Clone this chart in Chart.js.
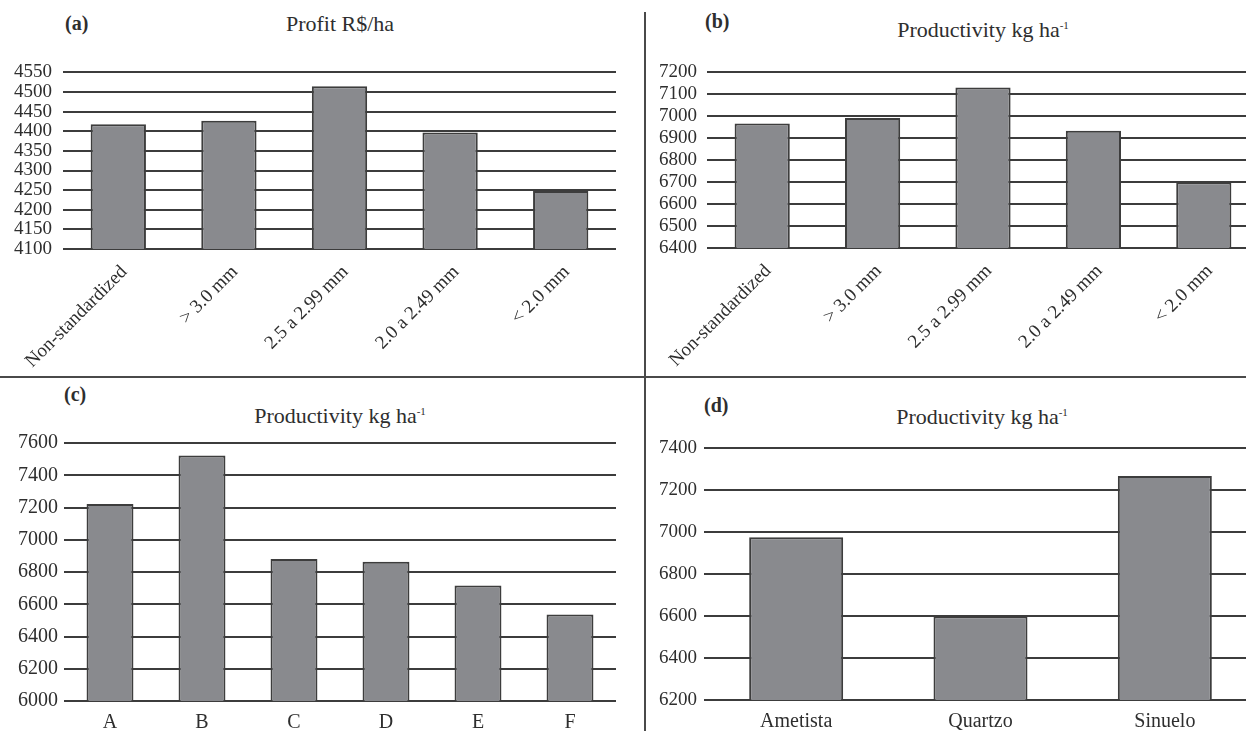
<!DOCTYPE html>
<html lang="en">
<head>
    <meta charset="UTF-8">
    <title>Profit and Productivity</title>
    <script src="https://cdn.jsdelivr.net/npm/chart.js"></script>
    <style>
        html, body { margin: 0; padding: 0; background: #fff; overflow: hidden; }
        body { width: 1246px; height: 731px; position: relative; font-family: "Liberation Serif", "DejaVu Serif", serif; color: #2e2e2e; }
        .box { position: absolute; }
        .tag { position: absolute; font-weight: bold; font-size: 20px; line-height: 24px; }
        .title { position: absolute; font-size: 22px; line-height: 26px; transform: translateX(-50%); white-space: nowrap; }
        .title sup { font-size: 11px; }
        .rule { position: absolute; background: #4a4a4a; }
    </style>
</head>
<body>
    <div class="rule" style="left:644px; top:12px; width:2px; height:719px;"></div>
    <div class="rule" style="left:0; top:376px; width:1246px; height:2px;"></div>

    <div class="tag" style="left:65px; top:11px;">(a)</div>
    <div class="title" style="left:340px; top:11px;">Profit R$/ha</div>
    <div class="tag" style="left:705px; top:9px;">(b)</div>
    <div class="title" style="left:983px; top:12px;">Productivity kg ha<sup>-1</sup></div>
    <div class="tag" style="left:64px; top:382px;">(c)</div>
    <div class="title" style="left:340px; top:398px;">Productivity kg ha<sup>-1</sup></div>
    <div class="tag" style="left:704px; top:393px;">(d)</div>
    <div class="title" style="left:982px; top:399px;">Productivity kg ha<sup>-1</sup></div>

    <div class="box" style="left:0; top:50px; width:616px; height:321px;"><canvas id="profitChart"></canvas></div>
    <div class="box" style="left:647px; top:51px; width:612px; height:319px;"><canvas id="sizeChart"></canvas></div>
    <div class="box" style="left:0; top:425px; width:616px; height:306px;"><canvas id="lotChart"></canvas></div>
    <div class="box" style="left:649px; top:430px; width:608px; height:301px;"><canvas id="cultivarChart"></canvas></div>

    <script>
        // (a) profit by seed size class
        const sizeLabels = ['Non-standardized', '> 3.0 mm', '2.5 a 2.99 mm', '2.0 a 2.49 mm', '< 2.0 mm'];
        const profitValues = [4418, 4427, 4515, 4397, 4248];
        // (b) productivity by seed size class
        const sizeProdValues = [6967, 6992, 7131, 6934, 6699];
        // (c) productivity by seed lot
        const lotLabels = ['A', 'B', 'C', 'D', 'E', 'F'];
        const lotValues = [7222, 7522, 6880, 6864, 6716, 6536];
        // (d) productivity by cultivar
        const cultivarLabels = ['Ametista', 'Quartzo', 'Sinuelo'];
        const cultivarValues = [6976, 6600, 7268];

        const fontFamily = '"Liberation Serif", "DejaVu Serif", serif';
        const textColor = '#2e2e2e';

        function makeBarChart(canvasId, labels, values, cfg) {
            const ctx = document.getElementById(canvasId).getContext('2d');
            new Chart(ctx, {
                type: 'bar',
                data: {
                    labels: labels,
                    datasets: [{
                        data: values,
                        backgroundColor: '#898a8e',
                        borderColor: '#3d3d3d',
                        borderWidth: 2,
                        barPercentage: cfg.barPct,
                        categoryPercentage: 1
                    }]
                },
                options: {
                    responsive: true,
                    maintainAspectRatio: false,
                    animation: false,
                    layout: { autoPadding: false, padding: { top: 12, left: 0, right: 0, bottom: 0 } },
                    plugins: { legend: { display: false }, tooltip: { enabled: false } },
                    scales: {
                        x: {
                            grid: { display: false, drawTicks: false },
                            border: { display: false },
                            ticks: {
                                color: textColor,
                                font: { family: fontFamily, size: cfg.xFont },
                                minRotation: cfg.rotation,
                                maxRotation: cfg.rotation,
                                padding: cfg.xPad,
                                labelOffset: cfg.xShift,
                                autoSkip: false
                            },
                            afterFit: scale => { scale.height = cfg.xHeight; }
                        },
                        y: {
                            min: cfg.min,
                            max: cfg.max,
                            grid: { color: '#3c3c3c', lineWidth: 2, drawTicks: false },
                            border: { display: false },
                            ticks: {
                                stepSize: cfg.step,
                                autoSkip: false,
                                color: textColor,
                                font: { family: fontFamily, size: cfg.yFont },
                                padding: cfg.yPad,
                                callback: value => String(value)
                            },
                            afterFit: scale => { scale.width = cfg.yWidth; }
                        }
                    }
                }
            });
        }

        makeBarChart('profitChart', sizeLabels, profitValues,
            { min: 4100, max: 4550, step: 50, barPct: 0.5, rotation: 45, xPad: 12, xShift: 6, xFont: 19,
              xHeight: 122, yWidth: 63, yPad: 11, yFont: 19 });
        makeBarChart('sizeChart', sizeLabels, sizeProdValues,
            { min: 6400, max: 7200, step: 100, barPct: 0.5, rotation: 45, xPad: 12, xShift: 6, xFont: 19,
              xHeight: 122, yWidth: 60, yPad: 10, yFont: 19 });
        makeBarChart('lotChart', lotLabels, lotValues,
            { min: 6000, max: 7600, step: 200, barPct: 0.51, rotation: 0, xPad: 10, xShift: 0, xFont: 20,
              xHeight: 30, yWidth: 64, yPad: 6, yFont: 20 });
        makeBarChart('cultivarChart', cultivarLabels, cultivarValues,
            { min: 6200, max: 7400, step: 200, barPct: 0.51, rotation: 0, xPad: 10, xShift: 0, xFont: 20,
              xHeight: 31, yWidth: 55, yPad: 7, yFont: 19 });
    </script>
</body>
</html>
